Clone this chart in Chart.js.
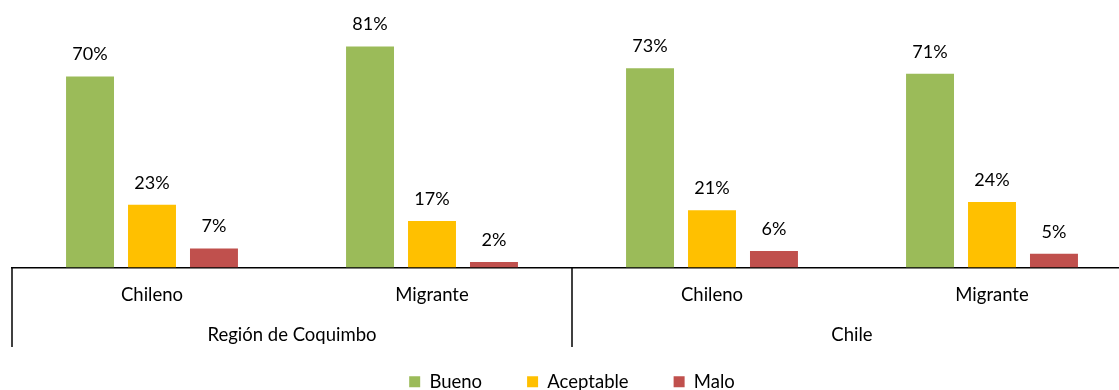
<!DOCTYPE html>
<html><head><meta charset="utf-8">
<script src="https://cdn.jsdelivr.net/npm/chart.js@4"></script>
<style>html,body{margin:0;padding:0;background:#fff;overflow:hidden}
#wrap{width:1119px;height:390px;overflow:hidden;position:relative}
canvas{display:block}</style></head><body>
<div id="wrap"><canvas id="c" width="1144" height="401"></canvas></div>
<script>
const categories = ["Chileno", "Migrante", "Chileno", "Migrante"];
const groups = ["Región de Coquimbo", "Chile"];
const seriesNames = ["Bueno", "Aceptable", "Malo"];
const bueno = [70, 81, 73, 71];
const aceptable = [23, 17, 21, 24];
const malo = [7, 2, 6, 5];
const colors = ["#9BBB59", "#FFC000", "#C0504D"];
const FONT = "Lato";
const TEXT_SIZE = 18.5;

const valuePlugin = {
  id: 'vals',
  afterDatasetsDraw(chart) {
    const ctx = chart.ctx;
    ctx.save();
    ctx.font = `18px ${FONT}`;
    ctx.fillStyle = '#000';
    ctx.textAlign = 'center';
    ctx.textBaseline = 'middle';
    chart.data.datasets.forEach((ds, i) => {
      chart.getDatasetMeta(i).data.forEach((bar, j) => {
        ctx.fillText(ds.data[j] + '%', bar.x, bar.y - 22);
      });
    });
    ctx.restore();
  }
};

const groupPlugin = {
  id: 'groups',
  afterDraw(chart) {
    const x = chart.scales.x, ctx = chart.ctx, b = chart.chartArea.bottom;
    const step = x.getPixelForValue(1) - x.getPixelForValue(0);
    const left = x.getPixelForValue(0) - step / 2;
    ctx.save();
    ctx.strokeStyle = '#000';
    ctx.lineWidth = 1.5;
    [0, 2, 4].forEach(k => {
      const px = left + k * step;
      ctx.beginPath();
      ctx.moveTo(px, b);
      ctx.lineTo(px, 347);
      ctx.stroke();
    });
    ctx.font = `${TEXT_SIZE}px ${FONT}`;
    ctx.fillStyle = '#000';
    ctx.textAlign = 'center';
    ctx.textBaseline = 'middle';
    groups.forEach((g, i) => {
      ctx.fillText(g, left + (2 * i + 1) * step, 335);
    });
    ctx.restore();
  }
};

new Chart(document.getElementById('c'), {
  type: 'bar',
  data: {
    labels: categories,
    datasets: [
      { label: seriesNames[0], data: bueno, backgroundColor: colors[0] },
      { label: seriesNames[1], data: aceptable, backgroundColor: colors[1] },
      { label: seriesNames[2], data: malo, backgroundColor: colors[2] }
    ]
  },
  options: {
    responsive: false,
    animation: false,
    devicePixelRatio: 1,
    layout: { padding: { left: 12, right: 12, top: 0, bottom: 0 } },
    datasets: { bar: { categoryPercentage: 0.664, barPercentage: 0.774 } },
    scales: {
      x: {
        grid: { display: false },
        border: { display: true, color: '#000', width: 1.5 },
        ticks: { color: '#000', font: { family: FONT, size: TEXT_SIZE }, padding: 8 },
        afterFit(s) { s.height = 60; }
      },
      y: { display: false, min: 0, max: 98 }
    },
    plugins: {
      legend: {
        position: 'bottom',
        labels: { color: '#000', font: { family: FONT, size: TEXT_SIZE }, boxWidth: 11, boxHeight: 11, padding: 45 }
      },
      tooltip: { enabled: false }
    }
  },
  plugins: [valuePlugin, groupPlugin]
});
</script></body></html>
